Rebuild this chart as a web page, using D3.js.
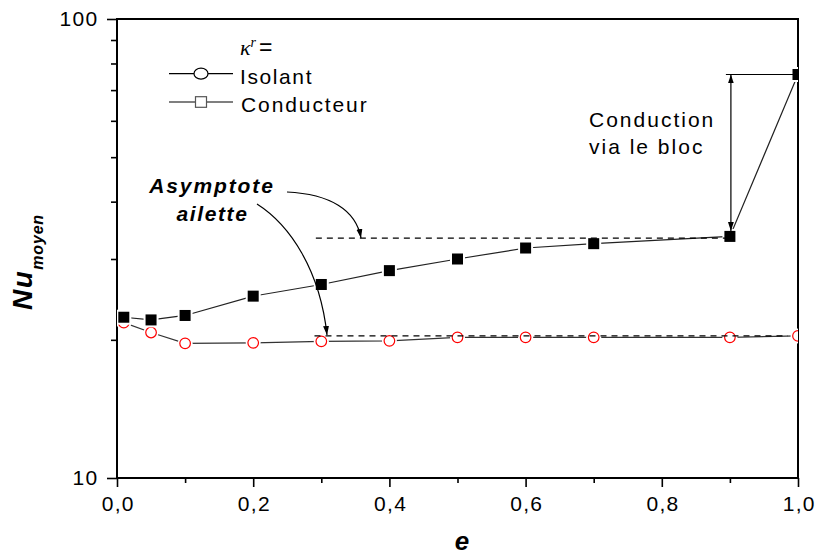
<!DOCTYPE html>
<html><head><meta charset="utf-8">
<script src="https://cdn.jsdelivr.net/npm/d3@7"></script>
<style>
body{margin:0;background:#fff}
text{font-family:"Liberation Sans",Arial,sans-serif;fill:#000}
</style>
</head><body>
<svg id="c" width="816" height="558"></svg>
<script>
// ---- data ----
const xValues    = [0.01, 0.05, 0.1, 0.2, 0.3, 0.4, 0.5, 0.6, 0.7, 0.9, 1.0];
const conducteur = [22.4, 22.1, 22.6, 24.9, 26.4, 28.3, 30.0, 31.7, 32.4, 33.6, 75.7];
const isolant    = [21.8, 20.75, 19.65, 19.7, 19.85, 19.9, 20.25, 20.25, 20.25, 20.25, 20.4];
const xTicks      = [0, 0.2, 0.4, 0.6, 0.8, 1.0];
const xMinorTicks = [0.1, 0.3, 0.5, 0.7, 0.9];
const yTicks      = [10, 100];
const yMinorTicks = [20, 30, 40, 50, 60, 70, 80, 90];
const asymptoteAilette = [{x0: 0.292, x1: 0.9, v: 33.3}, {x0: 0.29, x1: 0.985, v: 20.4}];
const seriesNames = ["Isolant", "Conducteur"];

// ---- layout ----
const L = 117, R = 798, T = 19, B = 478;
const svg = d3.select("#c");
const x = d3.scaleLinear().domain([0, 1]).range([L, R]);
const y = d3.scaleLog().domain([10, 100]).range([B, T]);

const defs = svg.append("defs");
defs.append("clipPath").attr("id", "clip").append("rect")
  .attr("x", L).attr("y", T).attr("width", R - L).attr("height", B - T);
defs.append("marker").attr("id", "ah").attr("viewBox", "0 0 10 10")
  .attr("refX", 10).attr("refY", 5).attr("markerWidth", 9).attr("markerHeight", 9)
  .attr("markerUnits", "userSpaceOnUse").attr("orient", "auto-start-reverse")
  .append("path").attr("d", "M0,1.7 L10,5 L0,8.3 Z").attr("fill", "#000");

// ---- axes ----
const fmt = d => d.toFixed(1).replace(".", ",");
const gx = svg.append("g").attr("transform", `translate(0,${B})`)
  .call(d3.axisBottom(x).tickValues(xTicks).tickFormat(fmt).tickSize(9).tickPadding(9));
const gxm = svg.append("g").attr("transform", `translate(0,${B})`)
  .call(d3.axisBottom(x).tickValues(xMinorTicks).tickFormat("").tickSize(5));
const gy = svg.append("g").attr("transform", `translate(${L},0)`)
  .call(d3.axisLeft(y).tickValues(yTicks).tickFormat(d3.format("d")).tickSize(10).tickPadding(8.5));
const gym = svg.append("g").attr("transform", `translate(${L},0)`)
  .call(d3.axisLeft(y).tickValues(yMinorTicks).tickFormat("").tickSize(6));
[gx, gxm, gy, gym].forEach(g => {
  g.select(".domain").remove();
  g.selectAll(".tick line").attr("stroke", "#000").attr("stroke-width", 1.6);
  g.selectAll(".tick text").attr("font-size", 21).attr("letter-spacing", 1.3)
    .attr("font-family", '"Liberation Sans",Arial,sans-serif');
});
gx.selectAll(".tick text").attr("dx", 0.7);

// frame
svg.append("rect").attr("x", L).attr("y", T).attr("width", R - L).attr("height", B - T)
  .attr("fill", "none").attr("stroke", "#000").attr("stroke-width", 2);

// ---- data marks ----
const plot = svg.append("g").attr("clip-path", "url(#clip)");
const line = d3.line().x(d => x(d[0])).y(d => y(d[1]));
const isoPts = xValues.map((v, i) => [v, isolant[i]]);
const conPts = xValues.map((v, i) => [v, conducteur[i]]);

plot.append("path").attr("d", line(isoPts)).attr("fill", "none").attr("stroke", "#333").attr("stroke-width", 1.2);
plot.selectAll(".isoHalo").data(isoPts).join("circle")
  .attr("cx", d => x(d[0])).attr("cy", d => y(d[1])).attr("r", 7.5).attr("fill", "#fff");
plot.selectAll(".iso").data(isoPts).join("circle").attr("class", "iso")
  .attr("cx", d => x(d[0])).attr("cy", d => y(d[1])).attr("r", 5.3)
  .attr("fill", "#fff").attr("stroke", "#f00").attr("stroke-width", 1.2);

plot.append("path").attr("d", line(conPts)).attr("fill", "none").attr("stroke", "#222").attr("stroke-width", 1.2);
plot.selectAll(".conHalo").data(conPts).join("rect")
  .attr("x", d => x(d[0]) - 7.5).attr("y", d => y(d[1]) - 7.5).attr("width", 15).attr("height", 15).attr("fill", "#fff");
plot.selectAll(".con").data(conPts).join("rect").attr("class", "con")
  .attr("x", d => x(d[0]) - 5.5).attr("y", d => y(d[1]) - 5.5).attr("width", 11).attr("height", 11).attr("fill", "#000");

// asymptote dashed lines
svg.selectAll(".asym").data(asymptoteAilette).join("line")
  .attr("x1", d => x(d.x0)).attr("x2", d => x(d.x1)).attr("y1", d => y(d.v)).attr("y2", d => y(d.v))
  .attr("stroke", "#000").attr("stroke-width", 1.2).attr("stroke-dasharray", "6,5");

// ---- annotations ----
svg.append("path").attr("d", "M287,192 C330,194 356,210 361,238")
  .attr("fill", "none").attr("stroke", "#000").attr("stroke-width", 1.2).attr("marker-end", "url(#ah)");
svg.append("path").attr("d", "M257,204 C290,225 320,270 327,335")
  .attr("fill", "none").attr("stroke", "#000").attr("stroke-width", 1.2).attr("marker-end", "url(#ah)");

svg.append("text").attr("x", 212).attr("y", 193).attr("text-anchor", "middle")
  .attr("font-size", 21).attr("font-weight", "bold").attr("font-style", "italic").attr("letter-spacing", 1.9)
  .text("Asymptote");
svg.append("text").attr("x", 212.5).attr("y", 221).attr("text-anchor", "middle")
  .attr("font-size", 21).attr("font-weight", "bold").attr("font-style", "italic").attr("letter-spacing", 1.6)
  .text("ailette");

const xa = x(0.9) + 1;
svg.append("line").attr("x1", xa).attr("x2", xa)
  .attr("y1", y(conducteur[10])).attr("y2", y(conducteur[9]) - 5.5)
  .attr("stroke", "#000").attr("stroke-width", 1.2)
  .attr("marker-start", "url(#ah)").attr("marker-end", "url(#ah)");
svg.append("line").attr("x1", xa - 5).attr("x2", x(1.0))
  .attr("y1", y(conducteur[10])).attr("y2", y(conducteur[10]))
  .attr("stroke", "#000").attr("stroke-width", 1.2);
svg.append("text").attr("x", 589).attr("y", 127).attr("font-size", 21).attr("letter-spacing", 2).text("Conduction");
svg.append("text").attr("x", 589).attr("y", 154).attr("font-size", 21).attr("letter-spacing", 2).text("via le bloc");

// ---- legend ----
const kt = svg.append("text").attr("x", 240).attr("y", 55);
kt.append("tspan").attr("font-family", '"Liberation Serif","Times New Roman",serif')
  .attr("font-style", "italic").attr("font-size", 22).text("κ");
kt.append("tspan").attr("font-family", '"Liberation Serif","Times New Roman",serif')
  .attr("font-style", "italic").attr("font-size", 14).attr("dy", -8).text("r");
kt.append("tspan").attr("font-size", 23).attr("x", 259).attr("dy", 8).text("=");

const legY = [73.7, 102];
legY.forEach(ly => svg.append("line").attr("x1", 169).attr("x2", 233).attr("y1", ly).attr("y2", ly)
  .attr("stroke", "#000").attr("stroke-width", 1.2));
svg.append("ellipse").attr("cx", 201).attr("cy", legY[0]).attr("rx", 7).attr("ry", 5.5)
  .attr("fill", "#fff").attr("stroke", "#000").attr("stroke-width", 1.2);
svg.append("rect").attr("x", 195.5).attr("y", legY[1] - 5.3).attr("width", 11).attr("height", 10.6)
  .attr("fill", "#fff").attr("stroke", "#555").attr("stroke-width", 1.2);
svg.append("text").attr("x", 240).attr("y", 83.5).attr("font-size", 21).attr("letter-spacing", 1.6).text(seriesNames[0]);
svg.append("text").attr("x", 241).attr("y", 112).attr("font-size", 21).attr("letter-spacing", 1.9).text(seriesNames[1]);

// ---- axis titles ----
svg.append("text").attr("x", 462).attr("y", 550).attr("text-anchor", "middle")
  .attr("font-size", 26).attr("font-weight", "bold").attr("font-style", "italic").text("e");
const yt = svg.append("text").attr("transform", "translate(32,310) rotate(-90)")
  .attr("font-weight", "bold").attr("font-style", "italic");
yt.append("tspan").attr("font-size", 28).attr("letter-spacing", 1.5).text("Nu");
yt.append("tspan").attr("font-size", 16).attr("letter-spacing", 0.8).attr("dy", 11).text("moyen");
</script>
</body></html>
